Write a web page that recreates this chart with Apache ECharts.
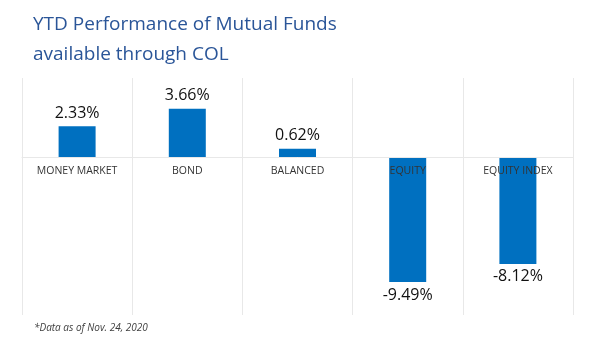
<!DOCTYPE html>
<html>
<head>
<meta charset="utf-8">
<script src="https://cdn.jsdelivr.net/npm/echarts@6/dist/echarts.min.js"></script>
<style>html,body{margin:0;padding:0;background:#fff;}#c{width:600px;height:338px;}</style>
</head>
<body>
<div id="c"></div>
<script>
var categories = ['MONEY MARKET', 'BOND', 'BALANCED', 'EQUITY', 'EQUITY INDEX'];
var values = [2.33, 3.66, 0.62, -9.49, -8.12];
var titleText = 'YTD Performance of Mutual Funds\navailable through COL';
var noteText = '*Data as of Nov. 24, 2020';

var yMin = -12, yMax = 6;
var gridTop = 78, gridBottom = 23, H = 338;
var plotH = H - gridTop - gridBottom;
var zeroOffset = -plotH * (0 - yMin) / (yMax - yMin);

var barData = values.map(function (v) {
  return {value: v, label: {position: v < 0 ? 'bottom' : 'top'}};
});

var chart = echarts.init(document.getElementById('c'), null, {renderer: 'canvas'});
chart.setOption({
  backgroundColor: '#ffffff',
  animation: false,
  title: [
    {text: titleText, left: 28, top: 5,
     textStyle: {fontFamily: 'Open Sans', fontWeight: 'normal', fontSize: 19, lineHeight: 30, color: '#2a5598'}},
    {text: noteText, left: 29, top: 318,
     textStyle: {fontFamily: 'Open Sans', fontStyle: 'italic', fontWeight: 'normal', fontSize: 10, color: '#404040'}}
  ],
  grid: {left: 22, right: 27, top: gridTop, bottom: gridBottom, containLabel: false},
  xAxis: [{
    type: 'category',
    data: categories,
    z: 3,
    offset: zeroOffset,
    axisLine: {onZero: false, lineStyle: {color: '#e8e8e8', width: 1}},
    axisTick: {show: false},
    axisLabel: {interval: 0, margin: 9, fontFamily: 'Open Sans', fontSize: 10.5, color: '#333333'},
    splitLine: {show: false}
  }, {
    type: 'category',
    data: categories,
    position: 'bottom',
    axisLine: {show: false},
    axisTick: {show: false},
    axisLabel: {show: false},
    splitLine: {show: true, interval: 0, lineStyle: {color: '#e8e8e8', width: 1}}
  }],
  yAxis: {
    type: 'value', min: yMin, max: yMax, interval: 6,
    show: false, splitLine: {show: false}
  },
  series: [{
    type: 'bar',
    data: barData,
    barWidth: 37,
    itemStyle: {color: '#0070c0'},
    label: {
      show: true,
      distance: 5,
      fontFamily: 'Open Sans',
      fontSize: 16,
      color: '#111111',
      formatter: function (p) { return p.value.toFixed(2) + '%'; }
    }
  }]
});
</script>
</body>
</html>
